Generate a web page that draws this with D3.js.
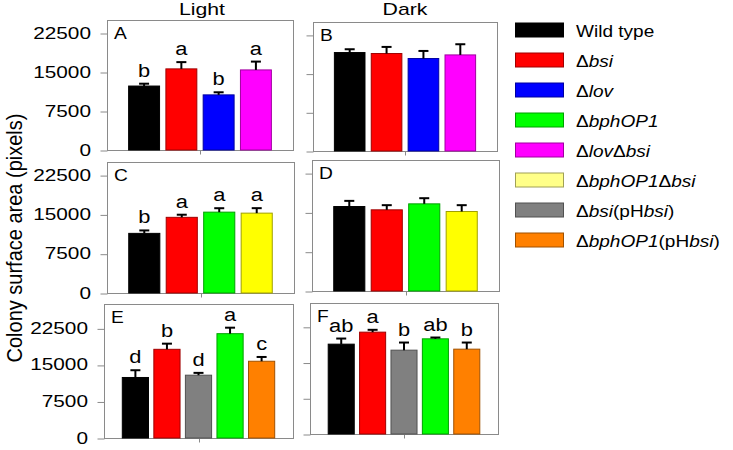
<!DOCTYPE html>
<html><head><meta charset="utf-8">
<script src="https://cdn.jsdelivr.net/npm/d3@7"></script>
<style>body{margin:0;background:#fff}svg{display:block}text{font-family:"Liberation Sans",Arial,sans-serif;fill:#000}</style>
</head><body>
<script>
// ---------- data ----------
const strains = ["Wild type","Δbsi","Δlov","ΔbphOP1","ΔlovΔbsi","ΔbphOP1Δbsi","Δbsi(pHbsi)","ΔbphOP1(pHbsi)"];
const strainColors = ["#000000","#ff0000","#0000ff","#00ff00","#ff00ff","#ffff00","#808080","#ff8000"];
const legendColors = ["#000000","#ff0000","#0000ff","#00ff00","#ff00ff","#ffff88","#808080","#ff8000"];
const legendParts = [
  [["Wild type",false]],
  [["Δ",false],["bsi",true]],
  [["Δ",false],["lov",true]],
  [["Δ",false],["bphOP1",true]],
  [["Δ",false],["lov",true],["Δ",false],["bsi",true]],
  [["Δ",false],["bphOP1",true],["Δ",false],["bsi",true]],
  [["Δ",false],["bsi",true],["(pH",false],["bsi",true],[")",false]],
  [["Δ",false],["bphOP1",true],["(pH",false],["bsi",true],[")",false]]
];
const yTicks = [0,7500,15000,22500];
const columnTitles = ["Light","Dark"];
const yLabel = "Colony surface area (pixels)";

const panelA_strains = [0,1,2,4], panelA_values = [12300,15600,10600,15400], panelA_errors = [450,1300,500,1600], panelA_letters = ["b","a","b","a"];
const panelB_strains = [0,1,2,4], panelB_values = [19080,18890,17920,18620], panelB_errors = [640,1280,1470,2070], panelB_letters = [];
const panelC_strains = [0,1,3,5], panelC_values = [11380,14440,15430,15240], panelC_errors = [560,500,750,950], panelC_letters = ["b","a","a","a"];
const panelD_strains = [0,1,3,5], panelD_values = [16120,15490,16630,15170], panelD_errors = [1080,890,1080,1210], panelD_letters = [];
const panelE_strains = [0,1,6,3,7], panelE_values = [12420,18200,12890,21410,15750], panelE_errors = [1490,1160,475,1230,880], panelE_letters = ["d","b","d","a","c"];
const panelF_strains = [0,1,6,3,7], panelF_values = [18860,21380,17600,19980,17810], panelF_errors = [1180,490,1600,275,1390], panelF_letters = ["ab","a","b","ab","b"];

// ---------- layout ----------
const panels = [
  {id:"A", s:panelA_strains, v:panelA_values, e:panelA_errors, l:panelA_letters, x0:107, x1:293, y0:20,  y1:150, max:25000},
  {id:"B", s:panelB_strains, v:panelB_values, e:panelB_errors, l:panelB_letters, x0:313, x1:497, y0:22,  y1:151, max:25000},
  {id:"C", s:panelC_strains, v:panelC_values, e:panelC_errors, l:panelC_letters, x0:107, x1:294, y0:162, y1:293, max:25000},
  {id:"D", s:panelD_strains, v:panelD_values, e:panelD_errors, l:panelD_letters, x0:312, x1:499, y0:160, y1:291, max:25000},
  {id:"E", s:panelE_strains, v:panelE_values, e:panelE_errors, l:panelE_letters, x0:104, x1:293, y0:304, y1:438, max:27500},
  {id:"F", s:panelF_strains, v:panelF_values, e:panelF_errors, l:panelF_letters, x0:310, x1:498, y0:303, y1:434, max:27500}
];
const SX = 1.25;
const gray = "#8a8a8a";

const svg = d3.select("body").append("svg").attr("width",733).attr("height",450);

function stext(g, x, y, str, size, sx, anchor){
  return g.append("text").attr("transform",`translate(${x},${y}) scale(${sx},1)`)
    .attr("font-size",size).attr("text-anchor",anchor||"start").text(str);
}

panels.forEach(p => {
  const g = svg.append("g");
  const x = d3.scaleBand().domain(p.s.map((d,i)=>i)).range([p.x0,p.x1]).paddingInner(0.17).paddingOuter(0.58);
  const y = d3.scaleLinear().domain([0,p.max]).range([p.y1,p.y0]);

  g.append("rect").attr("x",p.x0+0.5).attr("y",p.y0+0.5).attr("width",p.x1-p.x0).attr("height",p.y1-p.y0)
    .attr("fill","none").attr("stroke",gray).attr("stroke-width",1);

  const ax = g.append("g").attr("transform",`translate(${p.x0+0.5},0.5)`)
    .call(d3.axisLeft(y).tickValues(yTicks).tickSize(7).tickFormat(""));
  ax.select(".domain").remove();
  ax.selectAll("line").attr("stroke",gray);
  if (p.x0 < 200) {
    yTicks.forEach(t => stext(g, p.x0-16, y(t)+5.5, String(t), 16, 1.3, "end"));
  }
  const xc = Math.round((p.x0+p.x1)/2)+0.5;
  g.append("line").attr("x1",xc).attr("x2",xc).attr("y1",p.y1+0.5).attr("y2",p.y1+4.5).attr("stroke",gray);

  p.v.forEach((val,i) => {
    const c = strainColors[p.s[i]];
    g.append("rect").attr("x",x(i)).attr("width",x.bandwidth())
      .attr("y",y(val)).attr("height",y(0)-y(val))
      .attr("fill",c).attr("stroke",d3.color(c).darker(1.3)).attr("stroke-width",1);
    const cx = x(i)+x.bandwidth()/2;
    const top = y(val+p.e[i]);
    g.append("line").attr("x1",cx).attr("x2",cx).attr("y1",y(val)).attr("y2",top).attr("stroke","#000").attr("stroke-width",2);
    g.append("line").attr("x1",cx-5).attr("x2",cx+5).attr("y1",top).attr("y2",top).attr("stroke","#000").attr("stroke-width",2);
    if (p.l[i]) stext(g, cx, top-7, p.l[i], 19, 1.15, "middle");
  });

  stext(g, p.x0+7, p.y0+19, p.id, 16, 1.2, "start");
});

stext(svg, 202, 15, columnTitles[0], 17, SX, "middle");
stext(svg, 405, 15, columnTitles[1], 17, SX, "middle");

svg.append("text").attr("transform",`translate(22,238) scale(1.1,1) rotate(-90)`)
  .attr("font-size",20).attr("text-anchor","middle").text(yLabel);

strains.forEach((s,i) => {
  const cy = 30 + i*30;
  const c = legendColors[i];
  svg.append("rect").attr("x",515.5).attr("y",cy-7).attr("width",48).attr("height",14)
    .attr("fill",c).attr("stroke",d3.color(c).darker(1.3)).attr("stroke-width",1);
  const t = svg.append("text").attr("transform",`translate(576,${cy+7}) scale(1.12,1)`).attr("font-size",17);
  legendParts[i].forEach(([txt,it]) => {
    t.append("tspan").attr("font-style",it?"italic":"normal").text(txt);
  });
});
</script>
</body></html>
